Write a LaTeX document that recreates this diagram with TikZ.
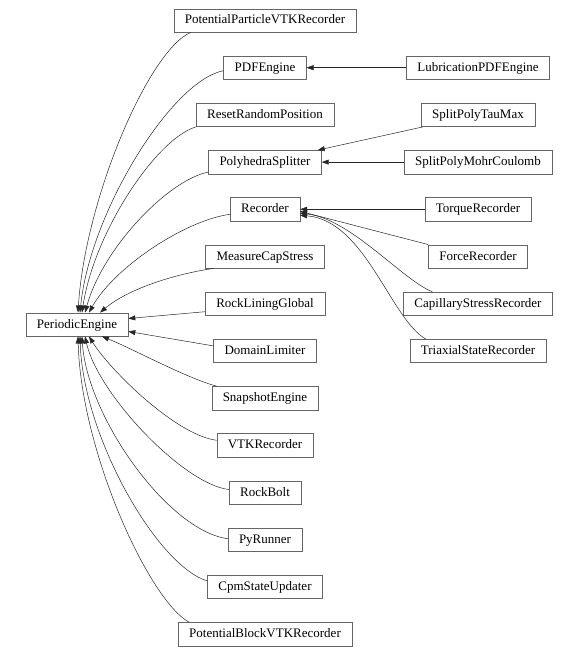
\documentclass[tikz,border=0pt]{standalone}
\usepackage{fontspec}
\setmainfont{Liberation Serif}
\usetikzlibrary{
    positioning,
    arrows.meta
}

\begin{document}
\begin{tikzpicture}[
    x=1pt, y=1pt,
    node distance=23.3pt,
    classbox/.style={rectangle, draw=black!60, fill=white, minimum height=23.5pt, inner xsep=11pt, inner ysep=0pt, text height=9pt, text depth=2pt, font=\fontsize{13}{15}\selectfont},
    inherit/.style={-{Triangle[length=7pt, width=5pt]}, draw=black!85, line width=0.5pt}
]
\useasboundingbox (0,0) rectangle (578,-650);

\node[classbox] (periodic) at (77,-324.5) {PeriodicEngine};

\node[classbox] (ppvtk) at (265,-20.5) {PotentialParticleVTKRecorder};
\node[classbox, below=of ppvtk] (pdf) {PDFEngine};
\node[classbox, below=of pdf] (reset) {ResetRandomPosition};
\node[classbox, below=of reset] (poly) {PolyhedraSplitter};
\node[classbox, below=of poly] (rec) {Recorder};
\node[classbox, below=of rec] (meas) {MeasureCapStress};
\node[classbox, below=of meas] (rlg) {RockLiningGlobal};
\node[classbox, below=of rlg] (dom) {DomainLimiter};
\node[classbox, below=of dom] (snap) {SnapshotEngine};
\node[classbox, below=of snap] (vtk) {VTKRecorder};
\node[classbox, below=of vtk] (bolt) {RockBolt};
\node[classbox, below=of bolt] (py) {PyRunner};
\node[classbox, below=of py] (cpm) {CpmStateUpdater};
\node[classbox, below=of cpm] (pbvtk) {PotentialBlockVTKRecorder};

\coordinate (rcol) at (478,0);
\node[classbox] (lubpdf) at (pdf -| rcol) {LubricationPDFEngine};
\node[classbox] (tau) at (reset -| rcol) {SplitPolyTauMax};
\node[classbox] (mohr) at (poly -| rcol) {SplitPolyMohrCoulomb};
\node[classbox] (torque) at (rec -| rcol) {TorqueRecorder};
\node[classbox] (force) at (meas -| rcol) {ForceRecorder};
\node[classbox] (cap) at (rlg -| rcol) {CapillaryStressRecorder};
\node[classbox] (tri) at (dom -| rcol) {TriaxialStateRecorder};

\draw[inherit] ([xshift=17pt]ppvtk.south west) .. controls +(-42,-18) and +(7,113) .. ([xshift=1pt]periodic.north);
\draw[inherit] ([yshift=-3pt]pdf.west) .. controls +(-52,-10) and +(10,100) .. ([xshift=3pt]periodic.north);
\draw[inherit] (reset.south west) .. controls +(-40,-12) and +(12,80) .. ([xshift=5pt]periodic.north);
\draw[inherit] ([yshift=2pt]poly.south west) .. controls +(-40,-8) and +(18,65) .. ([xshift=8pt]periodic.north);
\draw[inherit] ([yshift=-5pt]rec.west) .. controls +(-45,-6) and +(25,45) .. ([xshift=12pt]periodic.north);
\draw[inherit] ([xshift=8pt]meas.south west) .. controls +(-35,-5) and +(30,25) .. ([xshift=23pt]periodic.north);
\draw[inherit] ([yshift=-8pt]rlg.west) -- ([yshift=6pt]periodic.east);
\draw[inherit] ([yshift=5pt]dom.west) -- ([yshift=-7pt]periodic.east);
\draw[inherit] ([xshift=5pt]snap.north west) .. controls +(-30,8) and +(30,-12) .. ([xshift=25pt]periodic.south);
\draw[inherit] ([yshift=5pt]vtk.west) .. controls +(-40,5) and +(22,-35) .. ([xshift=12pt]periodic.south);
\draw[inherit] ([yshift=3pt]bolt.west) .. controls +(-45,5) and +(13,-58) .. ([xshift=8pt]periodic.south);
\draw[inherit] ([yshift=1pt]py.west) .. controls +(-60,8) and +(5,-80) .. ([xshift=5pt]periodic.south);
\draw[inherit] ([yshift=6pt]cpm.west) .. controls +(-50,15) and +(3,-100) .. ([xshift=3pt]periodic.south);
\draw[inherit] ([xshift=11pt]pbvtk.north west) .. controls +(-40,22) and +(3,-115) .. ([xshift=1pt]periodic.south);

\draw[inherit] (lubpdf) -- (pdf);
\draw[inherit] ([xshift=2pt]tau.south west) -- ([xshift=-4pt]poly.north east);
\draw[inherit] (mohr) -- (poly);
\draw[inherit] (torque) -- (rec);
\draw[inherit] (force.north west) -- ([yshift=-2pt]rec.east);
\draw[inherit] ([xshift=29pt]cap.north west) .. controls +(-30,12) and +(50,-5) .. ([yshift=-4pt]rec.east);
\draw[inherit] ([xshift=16pt]tri.north west) .. controls +(-35,20) and +(65,-5) .. ([yshift=-6pt]rec.east);
\end{tikzpicture}
\end{document}
